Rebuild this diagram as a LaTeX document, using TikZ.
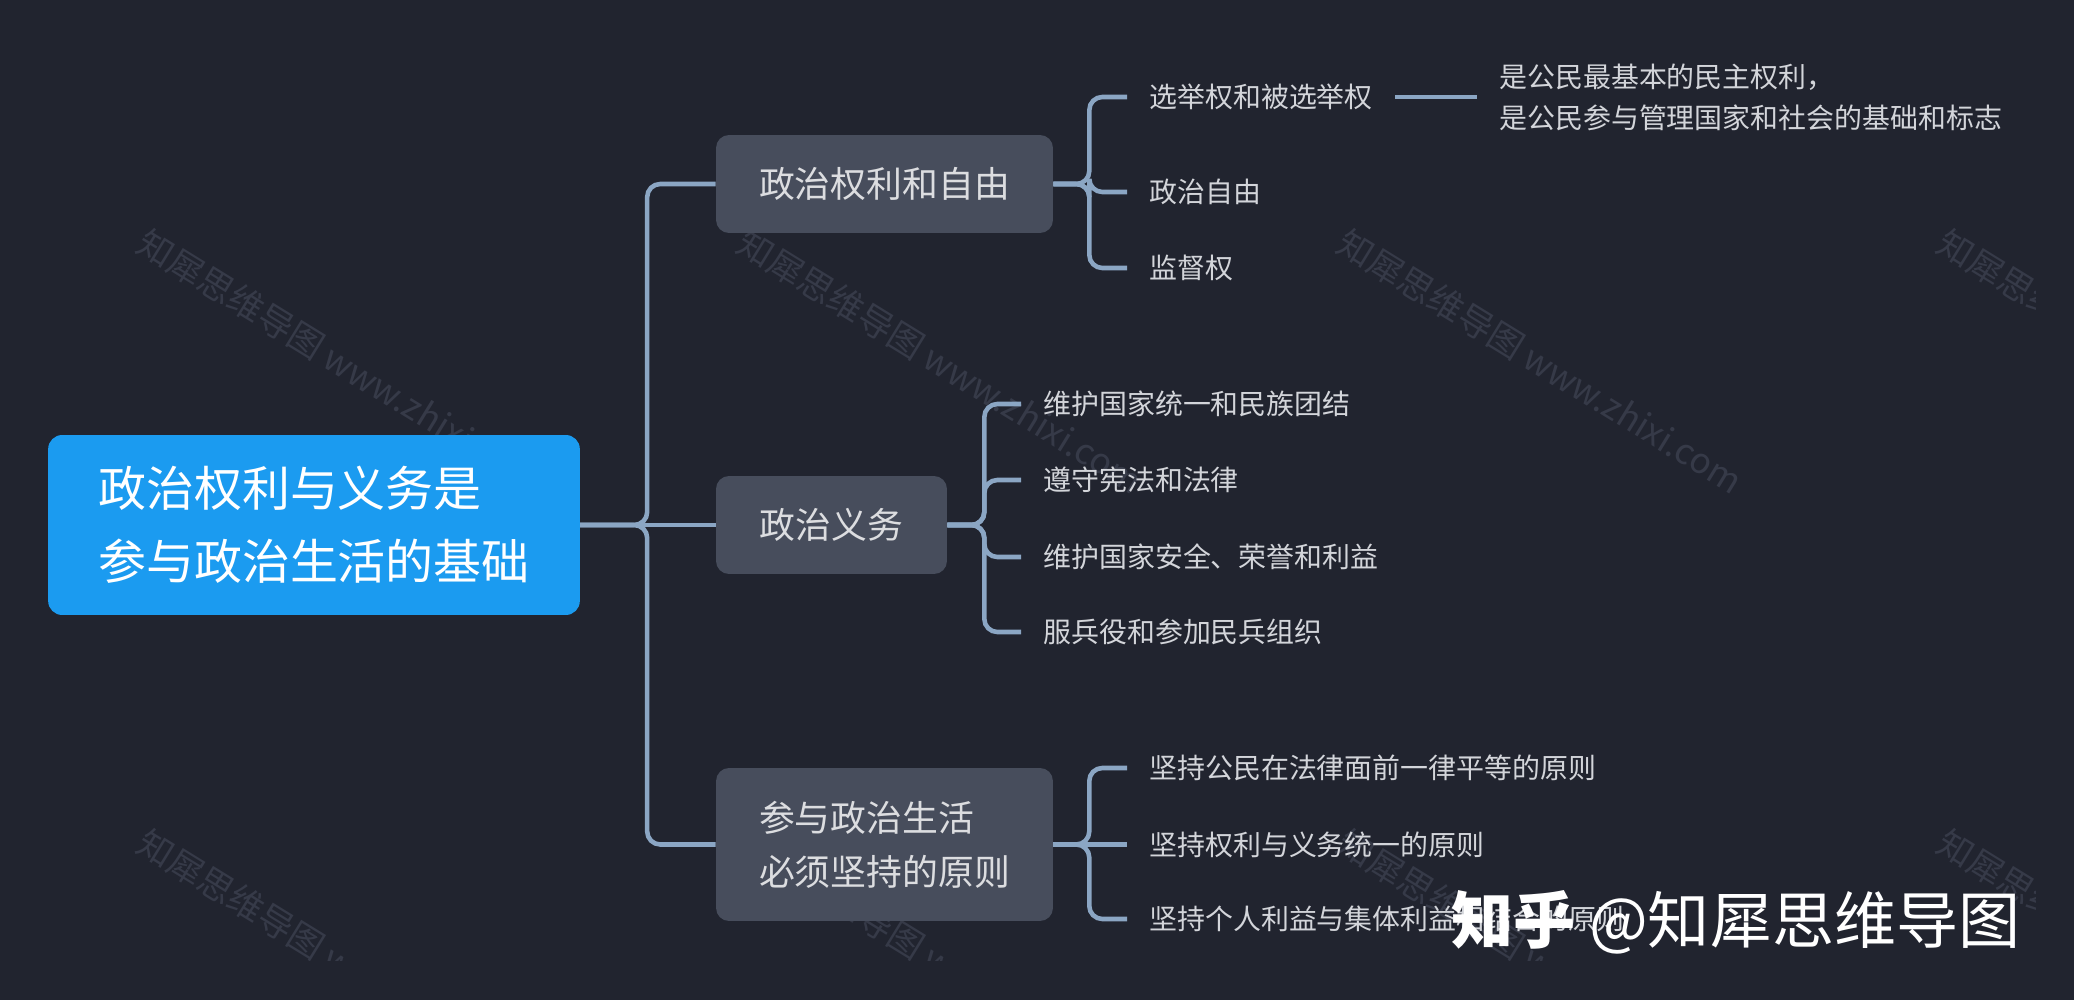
\documentclass[tikz,border=0pt]{standalone}
\usepackage{fontspec}
\setmainfont{Noto Sans CJK SC}
\definecolor{canvas}{HTML}{21242F}
\definecolor{rootblue}{HTML}{1B9BF0}
\definecolor{topicgray}{HTML}{474D5C}
\definecolor{linkblue}{HTML}{8BA6C4}
\definecolor{topictext}{HTML}{DCDDE0}
\definecolor{leaftext}{HTML}{D3D5DA}
\definecolor{stamp}{HTML}{363A48}
\tikzset{
  rootbox/.style={fill=rootblue, rounded corners=0.28cm, text=white, align=left, text width=245.7pt, inner xsep=1cm, minimum height=3.6cm, font=\fontsize{27.3}{41.5}\selectfont},
  topicbox/.style={fill=topicgray, rounded corners=0.26cm, text=topictext, minimum height=1.96cm, font=\fontsize{20.4}{30.7}\selectfont},
  leaf/.style={anchor=west, inner xsep=0.44cm, inner ysep=0pt, text=leaftext, font=\fontsize{15.9}{23.3}\selectfont},
  link/.style={draw=linkblue, line width=2.6pt, rounded corners=0.26cm},
  stamptext/.style={text=stamp, rotate=-31.6, anchor=north west, inner sep=0pt, font=\fontsize{20}{24}\selectfont},
}

\begin{document}
\begin{tikzpicture}[x=0.02cm, y=-0.02cm]
\useasboundingbox (0,0) rectangle (2074,1000);
\fill[canvas] (0,0) rectangle (2074,1000);
\clip (0,0) rectangle (2074,1000);

% watermarks
\begin{scope}
\clip (0,0) rectangle (2035,960);
\node[stamptext] (wmA) at (150,225) {知犀思维导图 www.zhixi.com};
\node[stamptext] (wmB) at (750,225) {知犀思维导图 www.zhixi.com};
\node[stamptext] (wmC) at (1350,225) {知犀思维导图 www.zhixi.com};
\node[stamptext] (wmD) at (1950,225) {知犀思维导图 www.zhixi.com};
\node[stamptext] (wmE) at (150,825) {知犀思维导图 www.zhixi.com};
\node[stamptext] (wmF) at (750,825) {知犀思维导图 www.zhixi.com};
\node[stamptext] (wmG) at (1350,825) {知犀思维导图 www.zhixi.com};
\node[stamptext] (wmH) at (1950,825) {知犀思维导图 www.zhixi.com};
\end{scope}

% Root
\node[rootbox] (root) at (314,525) {政治权利与义务是\\参与政治生活的基础};

% Topics
\node[topicbox, minimum width=6.74cm] (rights) at (884.5,184) {政治权利和自由};
\node[topicbox, minimum width=4.62cm] (duties) at (831.5,525) {政治义务};
\node[topicbox, align=left, text width=142.8pt, inner xsep=0.86cm, minimum height=3.06cm] (rules) at (884.5,844.5) {参与政治生活\\必须坚持的原则};

  % rights
  \node[leaf] (vote) at (1127,97) {选举权和被选举权};
  \node[leaf] (freedom) at (1127,192) {政治自由};
  \node[leaf] (oversee) at (1127,268) {监督权};
  \node[leaf, align=left] (voteinfo) at (1477,97) {是公民最基本的民主权利，\\是公民参与管理国家和社会的基础和标志};

  % duties
  \node[leaf] (unity) at (1021,404) {维护国家统一和民族团结};
  \node[leaf] (law) at (1021,480) {遵守宪法和法律};
  \node[leaf] (security) at (1021,557) {维护国家安全、荣誉和利益};
  \node[leaf] (service) at (1021,632) {服兵役和参加民兵组织};

  % rules
  \node[leaf] (equal) at (1127,768) {坚持公民在法律面前一律平等的原则};
  \node[leaf] (unify) at (1127,844.5) {坚持权利与义务统一的原则};
  \node[leaf] (collective) at (1127,919) {坚持个人利益与集体利益相结合的原则};

% connectors
\draw[link] (root.east) -- ++(67,0) |- (rights.west);
\draw[link] (root.east) -- (duties.west);
\draw[link] (root.east) -- ++(67,0) |- (rules.west);

\draw[link] (rights.east) -- ++(36,0) |- (vote.west);
\draw[link] (rights.east) -- ++(36,0) |- (freedom.west);
\draw[link] (rights.east) -- ++(36,0) |- (oversee.west);
\draw[link] (vote.east) -- (voteinfo.west);

\draw[link] (duties.east) -- ++(37,0) |- (unity.west);
\draw[link] (duties.east) -- ++(37,0) |- (law.west);
\draw[link] (duties.east) -- ++(37,0) |- (security.west);
\draw[link] (duties.east) -- ++(37,0) |- (service.west);

\draw[link] (rules.east) -- ++(36,0) |- (equal.west);
\draw[link] (rules.east) -- (unify.west);
\draw[link] (rules.east) -- ++(36,0) |- (collective.west);

% logo
\node[anchor=west, inner sep=0pt, text=white, font=\fontsize{35.3}{40}\selectfont] (logo) at (1451,922) {{\bfseries 知乎} @知犀思维导图};

\end{tikzpicture}
\end{document}
